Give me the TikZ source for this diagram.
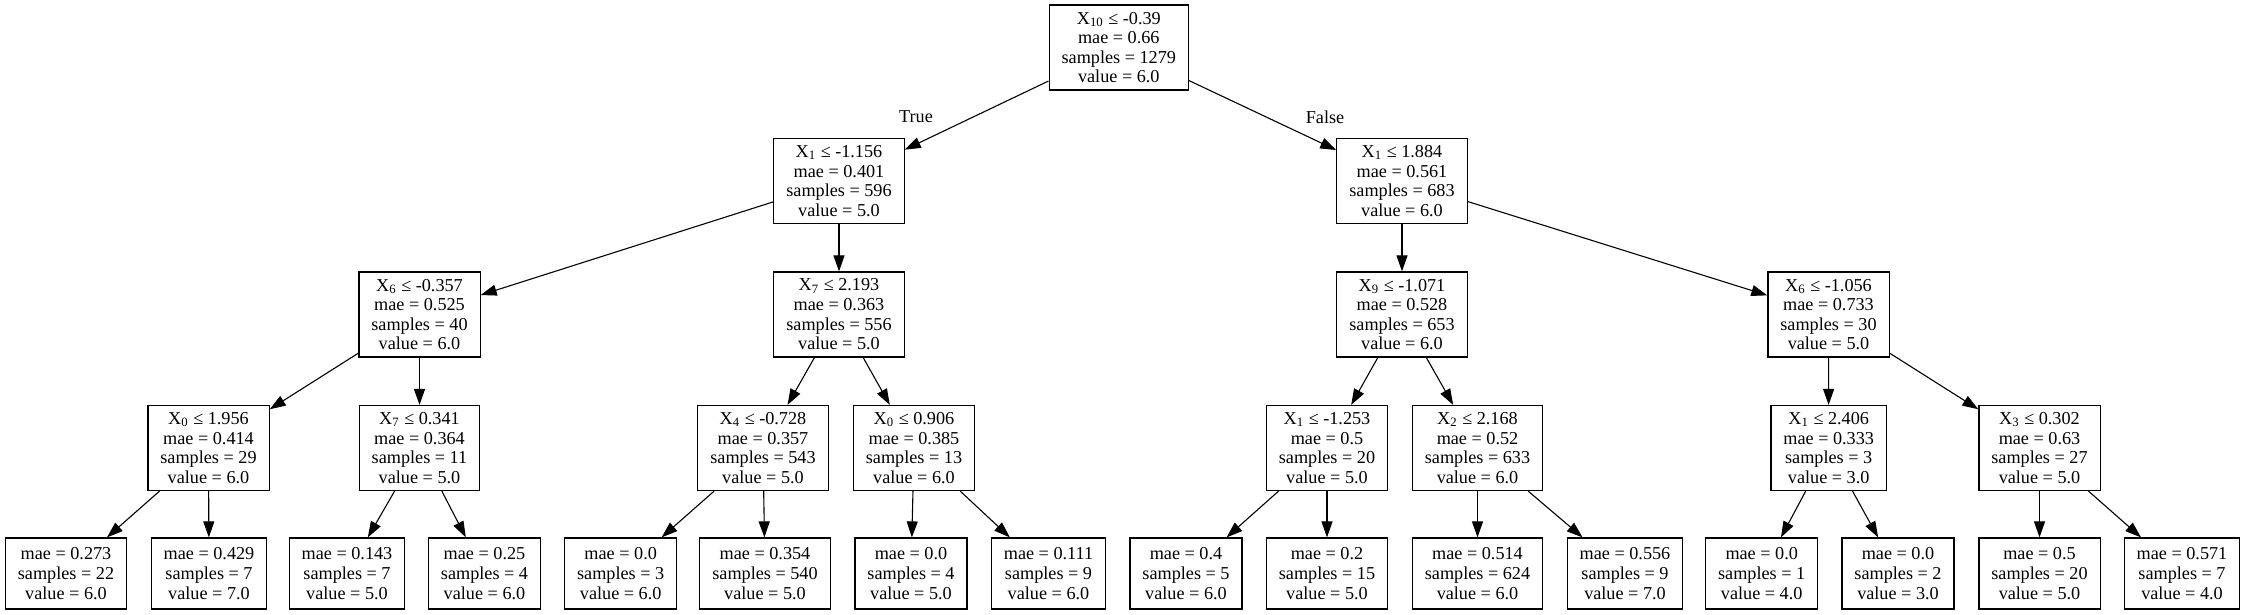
\documentclass[tikz,border=0pt]{standalone}
\usepackage{fontspec}
\setmainfont{Liberation Serif}
\usetikzlibrary{arrows.meta}
\newcommand\Xv[1]{X\textsubscript{#1}}
\begin{document}
\begin{tikzpicture}[x=0.5pt,y=-0.5pt,
  box/.style={draw, line width=0.6pt, rectangle, align=center, inner xsep=6.25pt, inner ysep=0pt, font=\fontsize{9.1pt}{9.8pt}\selectfont},
  split/.style={box, minimum height=42.5pt},
  leaf/.style={box, minimum height=35.5pt},
  edge/.style={line width=0.55pt, -{Triangle[length=8pt,width=5.5pt]}},
  elabel/.style={font=\fontsize{9.1pt}{9.8pt}\selectfont, inner sep=0pt}
]
\useasboundingbox (0,0) rectangle (2245,615);
% level 0
\node[split] (n0) at (1118.8,47.5) {\Xv{10} ≤ -0.39\\mae = 0.66\\samples = 1279\\value = 6.0};
% level 1
\node[split] (n1) at (839,181) {\Xv{1} ≤ -1.156\\mae = 0.401\\samples = 596\\value = 5.0};
\node[split] (n2) at (1402,181) {\Xv{1} ≤ 1.884\\mae = 0.561\\samples = 683\\value = 6.0};
% level 2
\node[split] (n3) at (419.5,314.5) {\Xv{6} ≤ -0.357\\mae = 0.525\\samples = 40\\value = 6.0};
\node[split] (n4) at (839,314.5) {\Xv{7} ≤ 2.193\\mae = 0.363\\samples = 556\\value = 5.0};
\node[split] (n5) at (1402,314.5) {\Xv{9} ≤ -1.071\\mae = 0.528\\samples = 653\\value = 6.0};
\node[split] (n6) at (1828.5,314.5) {\Xv{6} ≤ -1.056\\mae = 0.733\\samples = 30\\value = 5.0};
% level 3
\node[split] (n7) at (208.5,448) {\Xv{0} ≤ 1.956\\mae = 0.414\\samples = 29\\value = 6.0};
\node[split] (n8) at (419.5,448) {\Xv{7} ≤ 0.341\\mae = 0.364\\samples = 11\\value = 5.0};
\node[split] (n9) at (763,448) {\Xv{4} ≤ -0.728\\mae = 0.357\\samples = 543\\value = 5.0};
\node[split] (n10) at (914,448) {\Xv{0} ≤ 0.906\\mae = 0.385\\samples = 13\\value = 6.0};
\node[split] (n11) at (1327,448) {\Xv{1} ≤ -1.253\\mae = 0.5\\samples = 20\\value = 5.0};
\node[split] (n12) at (1477.5,448) {\Xv{2} ≤ 2.168\\mae = 0.52\\samples = 633\\value = 6.0};
\node[split] (n13) at (1828.7,448) {\Xv{1} ≤ 2.406\\mae = 0.333\\samples = 3\\value = 3.0};
\node[split] (n14) at (2039.5,448) {\Xv{3} ≤ 0.302\\mae = 0.63\\samples = 27\\value = 5.0};
% leaves
\node[leaf] (l1) at (66,573.5) {mae = 0.273\\samples = 22\\value = 6.0};
\node[leaf] (l2) at (209,573.5) {mae = 0.429\\samples = 7\\value = 7.0};
\node[leaf] (l3) at (347,573.5) {mae = 0.143\\samples = 7\\value = 5.0};
\node[leaf] (l4) at (484.5,573.5) {mae = 0.25\\samples = 4\\value = 6.0};
\node[leaf] (l5) at (620.7,573.5) {mae = 0.0\\samples = 3\\value = 6.0};
\node[leaf] (l6) at (765,573.5) {mae = 0.354\\samples = 540\\value = 5.0};
\node[leaf] (l7) at (911,573.5) {mae = 0.0\\samples = 4\\value = 5.0};
\node[leaf] (l8) at (1048.5,573.5) {mae = 0.111\\samples = 9\\value = 6.0};
\node[leaf] (l9) at (1186,573.5) {mae = 0.4\\samples = 5\\value = 6.0};
\node[leaf] (l10) at (1327,573.5) {mae = 0.2\\samples = 15\\value = 5.0};
\node[leaf] (l11) at (1477.5,573.5) {mae = 0.514\\samples = 624\\value = 6.0};
\node[leaf] (l12) at (1625,573.5) {mae = 0.556\\samples = 9\\value = 7.0};
\node[leaf] (l13) at (1761.7,573.5) {mae = 0.0\\samples = 1\\value = 4.0};
\node[leaf] (l14) at (1898,573.5) {mae = 0.0\\samples = 2\\value = 3.0};
\node[leaf] (l15) at (2039.5,573.5) {mae = 0.5\\samples = 20\\value = 5.0};
\node[leaf] (l16) at (2182,573.5) {mae = 0.571\\samples = 7\\value = 4.0};
% edge labels
\node[elabel] (tl) at (916,117) {True};
\node[elabel] (fl) at (1325,117) {False};
% edges
\foreach \a/\b in {n0/n1,n0/n2,n1/n3,n1/n4,n2/n5,n2/n6,n3/n7,n3/n8,n4/n9,n4/n10,n5/n11,n5/n12,n6/n13,n6/n14,
  n7/l1,n7/l2,n8/l3,n8/l4,n9/l5,n9/l6,n10/l7,n10/l8,n11/l9,n11/l10,n12/l11,n12/l12,n13/l13,n13/l14,n14/l15,n14/l16}
  \draw[edge] (\a) -- (\b);
\end{tikzpicture}
\end{document}
